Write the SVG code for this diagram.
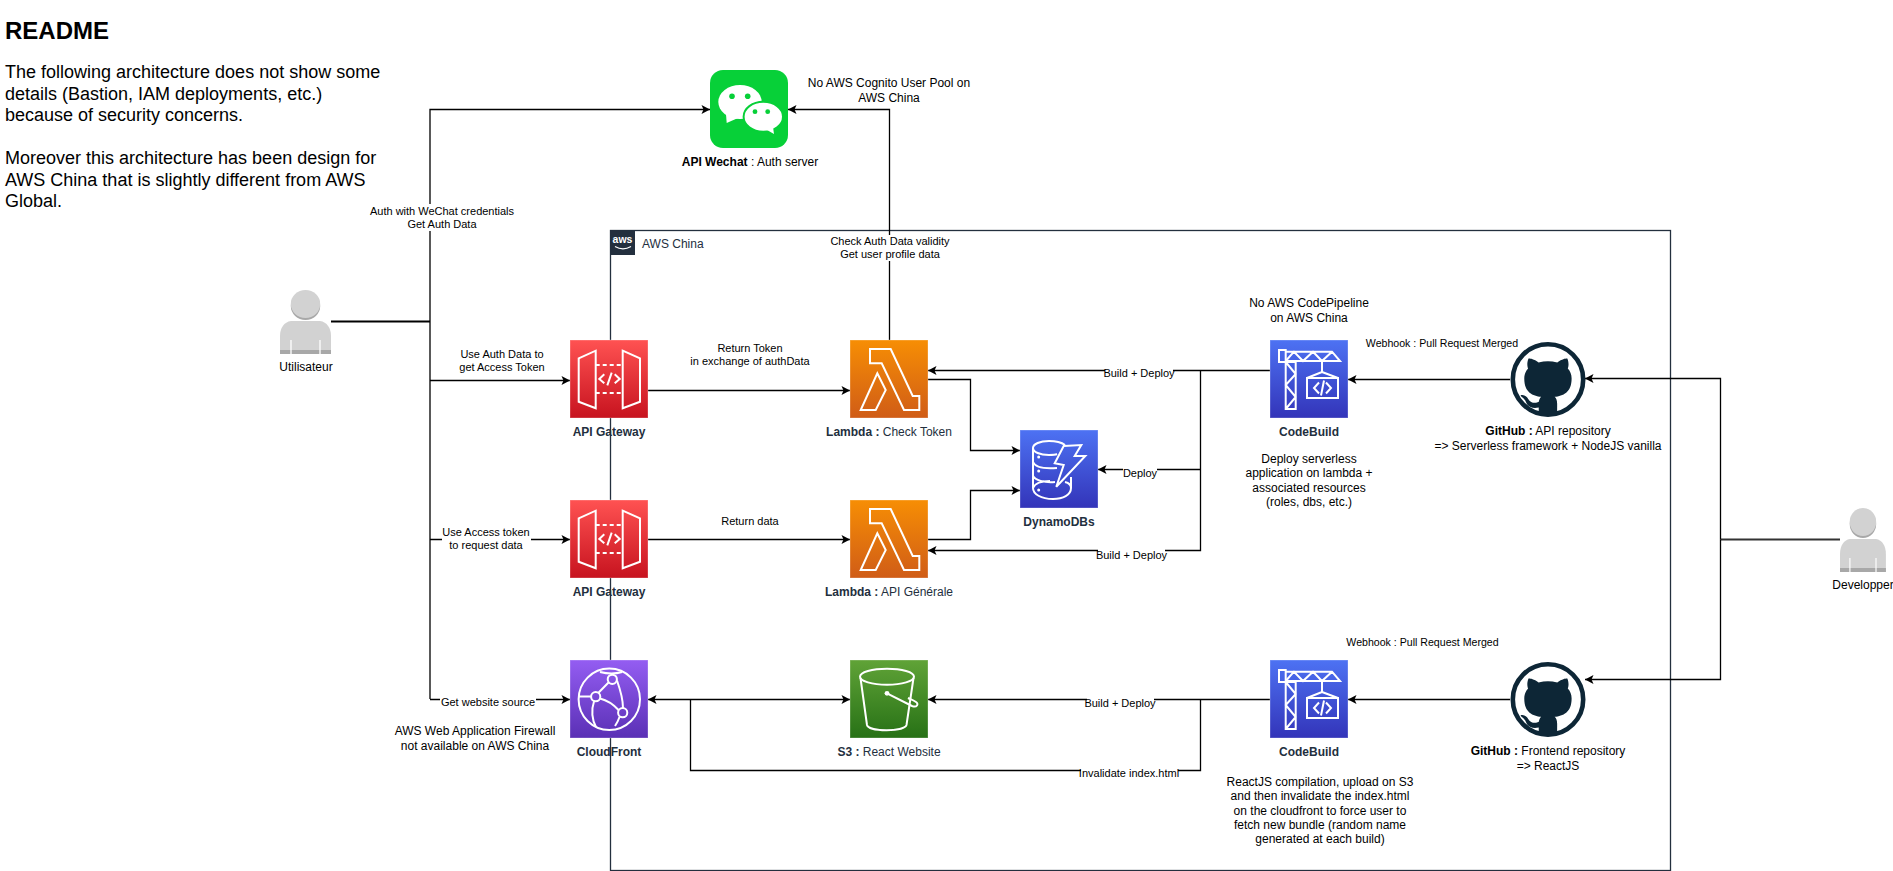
<svg xmlns="http://www.w3.org/2000/svg" xmlns:xlink="http://www.w3.org/1999/xlink" width="1893" height="871" viewBox="0 0 1893 871">
<style>
text{font-family:"Liberation Sans",Arial,sans-serif;dominant-baseline:central}
.e{font-size:11px;fill:#000;text-anchor:middle}
.w{font-size:10.6px}
.n{font-size:12px;fill:#000;text-anchor:middle}
.a{font-size:12px;fill:#232F3E;text-anchor:middle}
.b{font-weight:bold}
.r{font-size:18px;fill:#000}
.c{fill:none;stroke:#000;stroke-width:1.3}
.ic{fill:none;stroke:#fff;stroke-width:2}
.t{stroke:#fff;stroke-opacity:.3;stroke-width:1}
.lb{fill:#fff}
</style>
<defs>
<marker id="ah" markerUnits="userSpaceOnUse" markerWidth="10" markerHeight="10" refX="9" refY="5" orient="auto-start-reverse"><path d="M9 5L0.5 9.5 2.5 5 0.5 .5Z" fill="#000"/></marker>
<linearGradient id="gr" x1="0" y1="0" x2="0" y2="1"><stop offset="0" stop-color="#FF5252"/><stop offset="1" stop-color="#C7131F"/></linearGradient>
<linearGradient id="go" x1="0" y1="0" x2="0" y2="1"><stop offset="0" stop-color="#F78E04"/><stop offset="1" stop-color="#D05C17"/></linearGradient>
<linearGradient id="gb" x1="0" y1="0" x2="0" y2="1"><stop offset="0" stop-color="#4D72F3"/><stop offset="1" stop-color="#3334B9"/></linearGradient>
<linearGradient id="gp" x1="0" y1="0" x2="0" y2="1"><stop offset="0" stop-color="#945DF2"/><stop offset="1" stop-color="#5A30B5"/></linearGradient>
<linearGradient id="gg" x1="0" y1="0" x2="0" y2="1"><stop offset="0" stop-color="#60A337"/><stop offset="1" stop-color="#277116"/></linearGradient>
<g id="i-api">
<rect class="t" width="78" height="78" fill="url(#gr)"/>
<g class="ic"><path d="M8.7 18.3L25.7 10.7V68.3L8.7 61.7Z"/><path d="M52.7 10.7L70 18.3V61.7L52.7 68.3Z"/>
<path d="M25.7 25H52.7M25.7 53H52.7" stroke-dasharray="4 3"/><path d="M34.3 34.3L29.3 39 34.3 43.3M44.7 34.3L49.7 39 44.7 43.3M41.7 32.7L37.3 45.3"/></g>
</g>
<g id="i-lambda">
<rect class="t" width="78" height="78" fill="url(#go)"/>
<g class="ic"><path d="M20 9H40.7L62.7 56H69.3V70H54L31.7 23.3H20Z"/><path d="M27.3 33.3L35.7 50 25.7 70H10.7Z"/></g>
</g>
<g id="i-ddb">
<rect class="t" width="78" height="78" fill="url(#gb)"/>
<g class="ic"><path d="M45 15C41 12 35 11 29 11 20 11 13 14 13 18V58C13 64 21 69 33 69 43 69 51 65 51 58V47"/>
<path d="M13 18C13 22 20 25 29 25 32 25 35 25 37 24M13 32C15 37 24 39 37 38M13 46C15 50 24 53 35 52M13 58C15 53 21 51 30 51M45 52C49 53 51 55 51 58"/>
<path d="M43.7 16L61.3 15 54.7 26H65.3L36.3 56.7 43.7 35 34.7 33.3Z"/></g>
<circle cx="18.7" cy="27" r="1.5" fill="#fff"/><circle cx="18.7" cy="41" r="1.5" fill="#fff"/><circle cx="18.7" cy="60" r="1.5" fill="#fff"/>
</g>
<g id="i-cb">
<rect class="t" width="78" height="78" fill="url(#gb)"/>
<g class="ic"><path d="M9 10H15.7V22H9Z"/><path d="M15.7 11.7H62L70 21H15.7M15.7 21L24 11.7 33 21 43 11.7 52 21 62 11.7"/>
<path d="M15.7 22H25.7V69H15.7ZM15.7 22L25.7 34 15.7 45 25.7 57 15.7 69"/>
<path d="M52 21V32L37 38H68L52 32"/><path d="M37 38H68V58H37Z"/><path d="M49 42.5L44 48 49 53.5M56 42.5L61 48 56 53.5M54 40.5L51 55.5"/></g>
</g>
<g id="i-cf">
<rect class="t" width="78" height="78" fill="url(#gp)"/>
<g class="ic"><circle cx="39.3" cy="39.3" r="30.7"/><circle cx="42.3" cy="19.3" r="4.6"/><circle cx="25.7" cy="36.7" r="4.6"/><circle cx="52.7" cy="52.7" r="4.6"/>
<path d="M38.5 22.5L28.500 32.800M30 38.500C36 40 43 44 48.500 50M47 20.500C50 29 53 38 53 48M24 41.500C21 50 22 60 26 67M30 12C34 13 42 15 52 12M9 36.500H21M49.500 57C48.500 60 47 63 45 66"/></g>
</g>
<g id="i-s3">
<rect class="t" width="78" height="78" fill="url(#gg)"/>
<g class="ic"><ellipse cx="37" cy="16.7" rx="27" ry="8"/><path d="M10.500 18L17 65C19 72 54 72 56.500 65L63.500 18"/><path d="M37 33.300L62 46C67 48 69 44 66 42 63 40 60 39 58 38"/></g>
<circle cx="37" cy="33.300" r="2.400" fill="#fff"/>
</g>
<g id="i-gh">
<circle cx="37.500" cy="37.500" r="35.200" fill="#fff" stroke="#0D2636" stroke-width="4.600"/>
<path transform="translate(.3 .3) scale(3.1)" fill="#0D2636" d="M9.025 23.1c0-.285-.01-1.04-.015-2.04-3.338.724-4.042-1.61-4.042-1.61C4.422 18.07 3.633 17.7 3.633 17.7c-1.087-.744.084-.729.084-.729 1.205.084 1.838 1.236 1.838 1.236 1.07 1.835 2.809 1.305 3.495.998.108-.776.417-1.305.76-1.605-2.665-.3-5.466-1.332-5.466-5.93 0-1.31.465-2.38 1.235-3.22-.135-.303-.54-1.523.105-3.176 0 0 1.005-.322 3.3 1.23.96-.267 1.98-.399 3-.405 1.02.006 2.04.138 3 .405 2.28-1.552 3.285-1.23 3.285-1.23.645 1.653.24 2.873.12 3.176.765.84 1.23 1.91 1.23 3.22 0 4.61-2.805 5.625-5.475 5.92.42.36.81 1.096.81 2.22 0 1.606-.015 2.896-.015 3.286Z"/>
</g>
<g id="i-user">
<ellipse cx="25.500" cy="16" rx="14.700" ry="14" fill="#A8A8A8"/><ellipse cx="25.500" cy="14" rx="14.700" ry="14" fill="#D2D2D2"/>
<path d="M11 31H40C47 32 51 38 51 46V64H0V46C0 38 4 32 11 31Z" fill="#D2D2D2"/>
<rect y="60" width="51" height="4" fill="#A8A8A8"/>
<path d="M11 50V64M40 50V64" stroke="#fff" stroke-width="1.300"/>
</g>
</defs>
<rect width="1893" height="871" fill="#fff"/>

<g id="aws-china">
<rect x="610.500" y="230.500" width="1060" height="640" fill="none" stroke="#232F3E" stroke-width="1.300"/>
<rect x="610" y="230" width="25" height="25" fill="#232F3E"/>
<text x="622.500" y="239" font-size="10.500" font-weight="bold" fill="#fff" text-anchor="middle">aws</text>
<path d="M615 246.500C620 249.500 626 249.500 631 246.500" fill="none" stroke="#fff" stroke-width="1.200"/>
<text x="642" y="243.500" font-size="12" fill="#232F3E">AWS China</text>
</g>

<g id="connectors">
<path d="M331 321.500H430" fill="none" stroke="#000" stroke-width="2.200"/>
<path class="c" d="M430 699V109.500H710" marker-end="url(#ah)"/>
<path class="c" d="M430 380.500H570" marker-end="url(#ah)"/>
<path class="c" d="M430 539.500H570" marker-end="url(#ah)"/>
<path class="c" d="M430 699.500H570" marker-end="url(#ah)"/>
<path class="c" d="M889.500 340V109.500H788" marker-end="url(#ah)"/>
<path class="c" d="M648 390.500H850" marker-end="url(#ah)"/>
<path class="c" d="M648 539.500H850" marker-end="url(#ah)"/>
<path class="c" d="M928 379.500H970.500V450.500H1020" marker-end="url(#ah)"/>
<path class="c" d="M928 539.500H970.500V490.500H1020" marker-end="url(#ah)"/>
<path class="c" d="M1270 370.500H928" marker-end="url(#ah)"/>
<path class="c" d="M1200.500 370.500V550.500H928" marker-end="url(#ah)"/>
<path class="c" d="M1200.500 469.500H1098" marker-end="url(#ah)"/>
<path class="c" d="M1510 379.500H1348" marker-end="url(#ah)"/>
<path d="M1840 539.500H1720.500" fill="none" stroke="#333" stroke-width="2"/>
<path class="c" d="M1720.500 539.500V378.500H1585" marker-end="url(#ah)"/>
<path class="c" d="M1720.500 539.500V679.500H1585" marker-end="url(#ah)"/>
<path class="c" d="M1510 699.500H1348" marker-end="url(#ah)"/>
<path class="c" d="M1270 699.500H928" marker-end="url(#ah)"/>
<path class="c" d="M648 699.500H850" marker-start="url(#ah)" marker-end="url(#ah)"/>
<path class="c" d="M1200.500 699.500V770.500H690.500V699.500"/>

<rect class="lb" x="370" y="204" width="144" height="27"/>
<text class="e" x="442" y="211">Auth with WeChat credentials</text><text class="e" x="442" y="224">Get Auth Data</text>
<rect class="lb" x="830" y="235" width="120" height="26"/>
<text class="e" x="890" y="241">Check Auth Data validity</text><text class="e" x="890" y="254">Get user profile data</text>
<text class="e" x="502" y="354">Use Auth Data to</text><text class="e" x="502" y="367">get Access Token</text>
<text class="e" x="750" y="348">Return Token</text><text class="e" x="750" y="361">in exchange of authData</text>
<rect class="lb" x="442" y="526" width="89" height="26"/>
<text class="e" x="486" y="532">Use Access token</text><text class="e" x="486" y="545">to request data</text>
<text class="e" x="750" y="521">Return data</text>
<rect class="lb" x="440" y="695" width="96" height="14"/>
<text class="e" x="488" y="702">Get website source</text>
<rect class="lb" x="1105" y="366" width="68" height="14"/>
<text class="e" x="1139" y="373">Build + Deploy</text>
<rect class="lb" x="1098" y="548" width="67" height="14"/>
<text class="e" x="1131.500" y="555">Build + Deploy</text>
<rect class="lb" x="1123" y="466" width="34" height="14"/>
<text class="e" x="1140" y="473">Deploy</text>
<rect class="lb" x="1087" y="696" width="67" height="14"/>
<text class="e" x="1120" y="703">Build + Deploy</text>
<rect class="lb" x="1081" y="766" width="97" height="14"/>
<text class="e" x="1129" y="773">Invalidate index.html</text>
</g>

<g id="readme">
<text x="5" y="30" font-size="24" font-weight="bold" fill="#000">README</text>
<text class="r" x="5" y="72">The following architecture does not show some</text>
<text class="r" x="5" y="93.500">details (Bastion, IAM deployments, etc.)</text>
<text class="r" x="5" y="115">because of security concerns.</text>
<text class="r" x="5" y="158">Moreover this architecture has been design for</text>
<text class="r" x="5" y="180">AWS China that is slightly different from AWS</text>
<text class="r" x="5" y="201">Global.</text>
</g>

<g id="wechat">
<rect x="710" y="70" width="78" height="78" rx="13" fill="#07D038"/>
<ellipse cx="740" cy="102" rx="21.700" ry="17" fill="#fff"/><path d="M726 114L726.700 123 738 118Z" fill="#fff"/>
<circle cx="732" cy="96.300" r="2.800" fill="#07D038"/><circle cx="747.700" cy="96.300" r="2.800" fill="#07D038"/>
<ellipse cx="763.300" cy="116.700" rx="19.700" ry="15" fill="#fff" stroke="#07D038" stroke-width="2"/><path d="M767 130L774 134 773 127Z" fill="#fff"/>
<circle cx="755" cy="111.700" r="2.400" fill="#07D038"/><circle cx="767.700" cy="111.700" r="2.400" fill="#07D038"/>
<text class="n" x="750" y="161.700"><tspan class="b">API Wechat</tspan> : Auth server</text>
</g>
<text class="n" x="889" y="82.700">No AWS Cognito User Pool on</text><text class="n" x="889" y="97.700">AWS China</text>

<g id="user"><use href="#i-user" x="280" y="290"/><text class="n" x="306" y="367">Utilisateur</text></g>
<g id="developer"><use href="#i-user" transform="translate(1840 508) scale(.9 1)"/><text class="n" x="1863" y="585">Developper</text></g>

<g id="api-gw-1"><use href="#i-api" x="570" y="340"/><text class="a b" x="609" y="431.700">API Gateway</text></g>
<g id="api-gw-2"><use href="#i-api" x="570" y="500"/><text class="a b" x="609" y="591.700">API Gateway</text></g>
<g id="cloudfront"><use href="#i-cf" x="570" y="660"/><text class="a b" x="609" y="751.700">CloudFront</text></g>
<g id="lambda-1"><use href="#i-lambda" x="850" y="340"/><text class="a" x="889" y="431.700"><tspan class="b">Lambda :</tspan> Check Token</text></g>
<g id="lambda-2"><use href="#i-lambda" x="850" y="500"/><text class="a" x="889" y="591.700"><tspan class="b">Lambda :</tspan> API Générale</text></g>
<g id="s3"><use href="#i-s3" x="850" y="660"/><text class="a" x="889" y="751.700"><tspan class="b">S3 :</tspan> React Website</text></g>
<g id="dynamodb"><use href="#i-ddb" x="1020" y="430"/><text class="a b" x="1059" y="521.700">DynamoDBs</text></g>
<g id="codebuild-1"><use href="#i-cb" x="1270" y="340"/><text class="a b" x="1309" y="431.700">CodeBuild</text></g>
<g id="codebuild-2"><use href="#i-cb" x="1270" y="660"/><text class="a b" x="1309" y="751.700">CodeBuild</text></g>
<g id="github-1"><use href="#i-gh" x="1510.500" y="342"/><text class="n" x="1548" y="430.700"><tspan class="b">GitHub :</tspan> API repository</text><text class="n" x="1548" y="445.700">=&gt; Serverless framework + NodeJS vanilla</text></g>
<g id="github-2"><use href="#i-gh" x="1510.500" y="662"/><text class="n" x="1548" y="751"><tspan class="b">GitHub :</tspan> Frontend repository</text><text class="n" x="1548" y="766">=&gt; ReactJS</text></g>

<g id="notes">
<text class="n" x="475" y="730.700">AWS Web Application Firewall</text><text class="n" x="475" y="745.700">not available on AWS China</text>
<text class="n" x="1309" y="302.700">No AWS CodePipeline</text><text class="n" x="1309" y="317.700">on AWS China</text>
<text class="e w" x="1442" y="343">Webhook : Pull Request Merged</text>
<text class="e w" x="1422.500" y="642">Webhook : Pull Request Merged</text>
<text class="n" x="1309" y="458.700">Deploy serverless</text><text class="n" x="1309" y="473">application on lambda +</text><text class="n" x="1309" y="487.500">associated resources</text><text class="n" x="1309" y="502">(roles, dbs, etc.)</text>
<text class="n" x="1320" y="781.700">ReactJS compilation, upload on S3</text><text class="n" x="1320" y="796">and then invalidate the index.html</text><text class="n" x="1320" y="810.700">on the cloudfront to force user to</text><text class="n" x="1320" y="825">fetch new bundle (random name</text><text class="n" x="1320" y="839">generated at each build)</text>
</g>
</svg>
